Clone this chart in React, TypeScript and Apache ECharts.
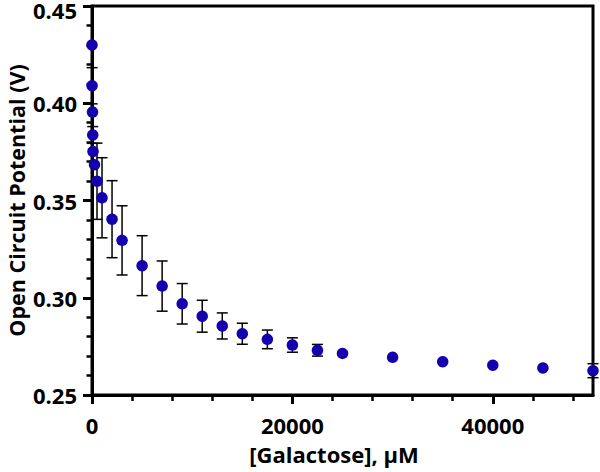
import React, { useEffect, useRef } from "react";
import * as echarts from "echarts";

const concentrations = [0, 10, 50, 75, 100, 250, 500, 1000, 2000, 3000, 5000, 7000, 9000, 11000, 13000, 15000, 17500, 20000, 22500, 25000, 30000, 35000, 40000, 45000, 50000];
const potentials = [0.43, 0.409, 0.3955, 0.3837, 0.3752, 0.3684, 0.3599, 0.3514, 0.3404, 0.3295, 0.3165, 0.306, 0.2969, 0.2905, 0.2855, 0.2815, 0.2786, 0.2757, 0.273, 0.2714, 0.2694, 0.2671, 0.2653, 0.2639, 0.2625];
const errors = [0, 0.0093, 0, 0.0043, 0, 0, 0.0196, 0.0206, 0.0198, 0.0178, 0.0154, 0.0129, 0.0104, 0.0082, 0.0067, 0.0054, 0.0048, 0.0037, 0.003, 0, 0, 0, 0, 0, 0.0036];

const xMajorTicks = [0, 20000, 40000];
const xMinorTicks = [4000, 8000, 12000, 16000, 24000, 28000, 32000, 36000, 44000, 48000];

const FONT = "Open Sans";

export default function App() {
  const ref = useRef<HTMLDivElement>(null);
  useEffect(() => {
    if (!ref.current) return;
    const chart = echarts.init(ref.current, null, { renderer: "svg" });
    const data = concentrations.map((c, i) => [c, potentials[i], errors[i]]);
    chart.setOption({
      animation: false,
      backgroundColor: "#fff",
      grid: {
        left: 92,
        right: 7,
        top: 6,
        bottom: 77,
        containLabel: false,
        outerBoundsMode: "none",
        show: true,
        borderColor: "#000",
        borderWidth: 3,
        backgroundColor: "transparent",
      },
      xAxis: [
        {
          type: "value",
          min: 0,
          max: 50000,
          position: "bottom",
          name: "[Galactose], µM",
          nameLocation: "middle",
          nameGap: 47,
          nameTextStyle: { fontFamily: FONT, fontWeight: "bold", fontSize: 22, lineHeight: 24, color: "#000", padding: [0, 17, 0, 0] },
          axisLine: { show: true, lineStyle: { color: "#000", width: 3 } },
          axisTick: { show: true, customValues: xMajorTicks, length: 9, lineStyle: { color: "#000", width: 3 } },
          axisLabel: {
            customValues: xMajorTicks,
            margin: 19,
            fontFamily: FONT,
            fontWeight: "bold",
            fontSize: 22,
            color: "#000",
            formatter: (v: number) => String(v),
          },
          splitLine: { show: false },
        },
        {
          type: "value",
          min: 0,
          max: 50000,
          position: "bottom",
          axisLine: { show: false },
          axisTick: { show: true, customValues: xMinorTicks, length: 6, lineStyle: { color: "#000", width: 2.5 } },
          axisLabel: { show: false },
          splitLine: { show: false },
        },
      ],
      yAxis: {
        type: "value",
        min: 0.25,
        max: 0.45,
        interval: 0.05,
        name: "Open Circuit Potential (V)",
        nameLocation: "middle",
        nameGap: 64,
        nameMoveOverlap: false,
        nameTextStyle: { fontFamily: FONT, fontWeight: "bold", fontSize: 21.5, lineHeight: 24, color: "#000" },
        axisLine: { show: true, lineStyle: { color: "#000", width: 3 } },
        axisTick: { show: true, length: 9, lineStyle: { color: "#000", width: 3 } },
        minorTick: { show: true, splitNumber: 5, length: 5.5, lineStyle: { color: "#000", width: 2.5 } },
        axisLabel: {
          margin: 15,
          fontFamily: FONT,
          fontWeight: "bold",
          fontSize: 22,
          lineHeight: 22,
          color: "#000",
          formatter: (v: number) => (v > 0.449 ? "{top|" + v.toFixed(2) + "}" : v.toFixed(2)),
          rich: {
            top: { fontFamily: FONT, fontWeight: "bold", fontSize: 22, lineHeight: 10, color: "#000", padding: [8, 0, 0, 0] },
          },
        },
        splitLine: { show: false },
        minorSplitLine: { show: false },
      },
      series: [
        {
          type: "custom",
          clip: false,
          z: 1,
          data,
          encode: { x: 0, y: 1 },
          renderItem: (params: any, api: any) => {
            const x = api.value(0);
            const y = api.value(1);
            const e = api.value(2);
            if (!e) return { type: "group", children: [] };
            const top = api.coord([x, y + e]);
            const bot = api.coord([x, y - e]);
            const hw = 5.5;
            const style = { stroke: "#000", lineWidth: 1.5 };
            return {
              type: "group",
              children: [
                { type: "line", shape: { x1: top[0], y1: top[1], x2: bot[0], y2: bot[1] }, style },
                { type: "line", shape: { x1: top[0] - hw, y1: top[1], x2: top[0] + hw, y2: top[1] }, style },
                { type: "line", shape: { x1: bot[0] - hw, y1: bot[1], x2: bot[0] + hw, y2: bot[1] }, style },
              ],
            };
          },
        },
        {
          type: "scatter",
          clip: false,
          z: 3,
          symbol: "circle",
          symbolSize: 11.5,
          itemStyle: { color: "#1500b0", opacity: 1 },
          data: concentrations.map((c, i) => [c, potentials[i]]),
        },
      ],
    });
    return () => chart.dispose();
  }, []);
  return <div ref={ref} style={{ position: "absolute", left: 0, top: 0, width: 600, height: 472 }} />;
}
